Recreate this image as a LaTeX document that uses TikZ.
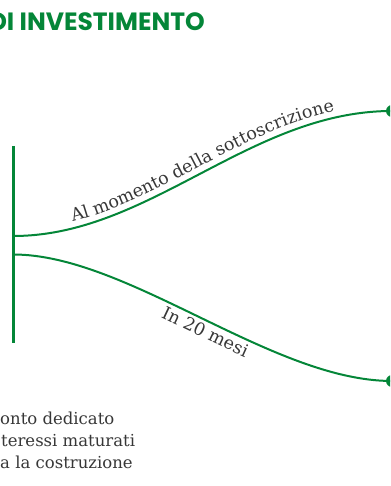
\documentclass[tikz,border=0pt]{standalone}
\usepackage{fontspec}
\setmainfont{DejaVu Serif}
\newfontfamily\titlefont{Poppins}
\usetikzlibrary{decorations.text}
\definecolor{grn}{RGB}{4,134,56}
\definecolor{txt}{RGB}{55,55,55}
\begin{document}
\begin{tikzpicture}[x=1pt,y=1pt,
  branch/.style={draw=grn, line width=2pt},
  dot/.style={circle, fill=grn, minimum size=12pt, inner sep=0pt},
  body/.style={anchor=base west, inner sep=0pt, text=txt, font=\fontsize{16.5}{16.5}\selectfont}]
\useasboundingbox (0,0) rectangle (390,486);
\clip (0,0) rectangle (390,486);
\node[anchor=base east, text=grn, font=\titlefont\bfseries\fontsize{25}{25}\selectfont, inner sep=0pt] (title) at (205,455) {DI INVESTIMENTO};
\coordinate (top) at (13.3,340);
\coordinate (bot) at (13.3,143);
\draw[grn, line width=3.5pt] (top) -- (bot);
\coordinate (s1) at (13.3,250);
\coordinate (s2) at (13.3,231.5);
\node[dot] (d1) at (392,375) {};
\node[dot] (d2) at (392,105) {};
\draw[branch] (s1) .. controls (150,250) and (250,375) .. (d1.center);
\draw[branch] (s2) .. controls (128,231.5) and (272,105) .. (d2.center);
\path[decorate, decoration={text along path, text align={left indent=62pt}, raise=6.5pt,
  text={|\fontsize{17.5}{17.5}\selectfont\color{txt}|Al momento della sottoscrizione}}]
  (s1) .. controls (150,250) and (250,375) .. (d1.center);
\path[decorate, decoration={text along path, text align={left indent=163pt}, raise=-17pt,
  text={|\fontsize{17.5}{17.5}\selectfont\color{txt}|In 20 mesi}}]
  (s2) .. controls (128,231.5) and (272,105) .. (d2.center);
\node[body] (l1) at (0,61) {onto dedicato};
\node[body] (l2) at (1,39) {teressi maturati};
\node[body] (l3) at (0,17) {a la costruzione};
\end{tikzpicture}
\end{document}
